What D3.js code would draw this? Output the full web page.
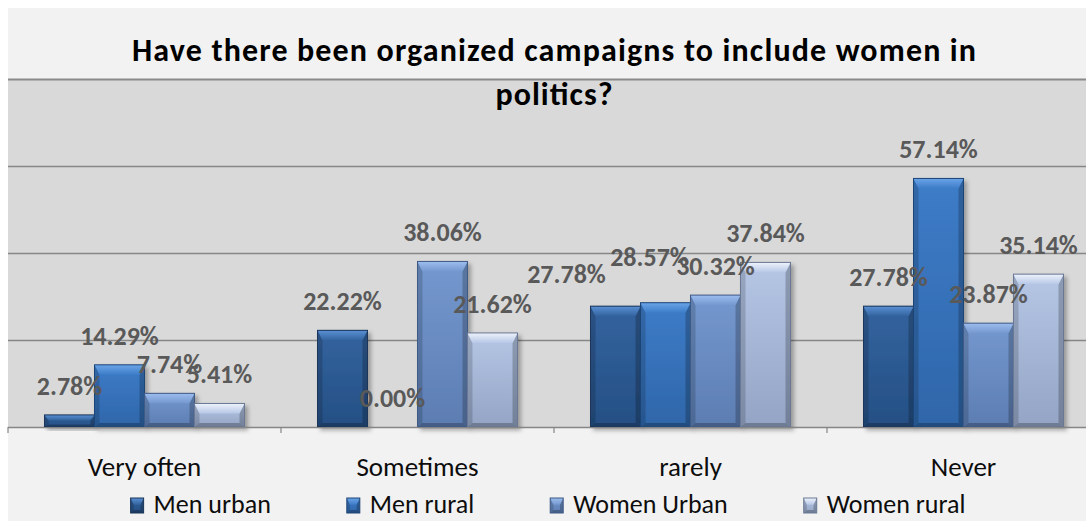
<!DOCTYPE html>
<html>
<head>
<meta charset="utf-8">
<script src="https://cdn.jsdelivr.net/npm/d3@7"></script>
<style>
  html, body { margin: 0; padding: 0; background: #ffffff; }
  svg { display: block; }
  text { font-family: Carlito, Lato, "Open Sans", sans-serif; }
</style>
</head>
<body>
<svg id="chart" width="1086" height="521"></svg>
<script>
// Survey answers, share of respondents per group (%)
const categories = ["Very often", "Sometimes", "rarely", "Never"];
const seriesNames = ["Men urban", "Men rural", "Women Urban", "Women rural"];
const menUrban   = [2.78, 22.22, 27.78, 27.78];
const menRural   = [14.29, 0.00, 28.57, 57.14];
const womenUrban = [7.74, 38.06, 30.32, 23.87];
const womenRural = [5.41, 21.62, 37.84, 35.14];
const yTicks = [0, 20, 40, 60, 80];
const titleLines = ["Have there been organized campaigns to include women in", "politics?"];

const seriesValues = [menUrban, menRural, womenUrban, womenRural];

// Hand-moved data labels (dx, dy in px) so crowded ones stay readable
const labelNudges = {
  "rarely|Men urban": [-49, -3],
  "rarely|Men rural": [-16, -17]
};

// Bevelled bar palettes: body top / body bottom / top bevel highlight / outline
const palettes = [
  { top: "#33639e", bottom: "#254f84", hi: "#5a90d4", edge: "#1a3558" },
  { top: "#3d7cc8", bottom: "#2f66a9", hi: "#6ba5e8", edge: "#1f4577" },
  { top: "#7498cf", bottom: "#5c7db2", hi: "#9dbdee", edge: "#3f5a86" },
  { top: "#b6c7e6", bottom: "#93a4c4", hi: "#eef3fc", edge: "#6a7893" }
];

const svg = d3.select("#chart");
const defs = svg.append("defs");

// chart area
const chartX = 8, chartY = 8, chartW = 1092;
svg.append("rect").attr("x", chartX).attr("y", chartY)
  .attr("width", chartW).attr("height", 521 - chartY).attr("fill", "#f2f2f2");

// plot area
const plot = { left: 8, right: 1100, top: 79, bottom: 427 };
svg.append("rect").attr("x", plot.left).attr("y", plot.top)
  .attr("width", plot.right - plot.left).attr("height", plot.bottom - plot.top)
  .attr("fill", "#d9d9d9");

const x0 = d3.scaleBand().domain(categories).range([plot.left, plot.right]).padding(0);
const groupInset = x0.bandwidth() * 0.1337;
const x1 = d3.scaleBand().domain(seriesNames)
  .range([groupInset, x0.bandwidth() - groupInset]).padding(0);
const y = d3.scaleLinear().domain([0, 80]).range([plot.bottom, plot.top]);

// gridlines
const grid = svg.append("g").attr("transform", `translate(${plot.left},0)`)
  .call(d3.axisLeft(y).tickValues(yTicks).tickSize(-(plot.right - plot.left)).tickFormat(""));
grid.select(".domain").remove();
grid.selectAll(".tick line").attr("stroke", "#878787").attr("stroke-width", 1.4);
grid.selectAll(".tick").filter(d => d === 80).select("line").attr("stroke-width", 2.2).attr("stroke", "#8a8a8a");

// gradients
palettes.forEach((p, i) => {
  const g = defs.append("linearGradient").attr("id", "body" + i)
    .attr("x1", 0).attr("y1", 0).attr("x2", 0).attr("y2", 1);
  g.append("stop").attr("offset", 0).attr("stop-color", p.top);
  g.append("stop").attr("offset", 1).attr("stop-color", p.bottom);
  const h = defs.append("linearGradient").attr("id", "hi" + i)
    .attr("x1", 0).attr("y1", 0).attr("x2", 0).attr("y2", 1);
  h.append("stop").attr("offset", 0).attr("stop-color", p.hi).attr("stop-opacity", 1);
  h.append("stop").attr("offset", 1).attr("stop-color", p.top).attr("stop-opacity", 1);
});
const shadow = defs.append("filter").attr("id", "shadow")
  .attr("x", "-20%").attr("y", "-20%").attr("width", "150%").attr("height", "150%");
shadow.append("feDropShadow").attr("dx", 3).attr("dy", 3).attr("stdDeviation", 2.2)
  .attr("flood-color", "#000").attr("flood-opacity", 0.3);

// one bevelled bar
function bevelBar(sel, w, h, i) {
  const bs = Math.min(5, w / 4, h / 3);
  const bt = Math.min(10, h * 0.45);
  const bb = Math.min(4, h * 0.2);
  const pts = a => a.map(p => p.join(",")).join(" ");
  sel.append("rect").attr("width", w).attr("height", h).attr("fill", `url(#body${i})`);
  sel.append("polygon").attr("points", pts([[0, 0], [bs, bt], [bs, h - bb], [0, h]]))
    .attr("fill", "#000").attr("fill-opacity", 0.16);
  sel.append("polygon").attr("points", pts([[w, 0], [w - bs, bt], [w - bs, h - bb], [w, h]]))
    .attr("fill", "#000").attr("fill-opacity", 0.22);
  sel.append("polygon").attr("points", pts([[0, h], [w, h], [w - bs, h - bb], [bs, h - bb]]))
    .attr("fill", "#000").attr("fill-opacity", 0.25);
  sel.append("polygon").attr("points", pts([[0, 0], [w, 0], [w - bs, bt], [bs, bt]]))
    .attr("fill", `url(#hi${i})`);
  sel.append("rect").attr("width", w).attr("height", h).attr("fill", "none")
    .attr("stroke", palettes[i].edge).attr("stroke-width", 1);
}

// bars
const groups = svg.append("g").selectAll("g.cat").data(categories).join("g")
  .attr("class", "cat").attr("transform", d => `translate(${x0(d)},0)`);

groups.each(function (cat, ci) {
  const g = d3.select(this);
  seriesNames.forEach((s, si) => {
    const v = seriesValues[si][ci];
    const h = y(0) - y(v);
    if (h <= 0) return;
    const bar = g.append("g").attr("filter", "url(#shadow)")
      .attr("transform", `translate(${x1(s)},${y(v)})`);
    bevelBar(bar, x1.bandwidth(), h, si);
  });
});

// category axis
const xAxis = svg.append("g").attr("transform", `translate(0,${plot.bottom})`)
  .call(d3.axisBottom(x0).tickSize(0).tickPadding(0));
xAxis.select(".domain").attr("stroke", "#868686").attr("stroke-width", 1.2);
xAxis.selectAll(".tick text").attr("dy", null).attr("y", 49)
  .attr("font-size", 27).attr("fill", "#0d0d0d")
  .style("font-family", "Carlito, Lato, sans-serif");
// tick marks on band boundaries
const edges = categories.map(c => x0(c)).concat([x0(categories[categories.length - 1]) + x0.bandwidth()]);
xAxis.selectAll("line.edge").data(edges).join("line").attr("class", "edge")
  .attr("x1", d => d).attr("x2", d => d).attr("y1", 0).attr("y2", 6)
  .attr("stroke", "#868686").attr("stroke-width", 1.2);

// value labels
const labelData = [];
categories.forEach((c, ci) => seriesNames.forEach((s, si) => {
  const [dx, dy] = labelNudges[c + "|" + s] || [0, 0];
  labelData.push({ x: x0(c) + x1(s) + x1.bandwidth() / 2 + dx, dy, v: seriesValues[si][ci] });
}));
svg.append("g").selectAll("text").data(labelData).join("text")
  .attr("x", d => d.x).attr("y", d => y(d.v) - 20 + d.dy)
  .attr("text-anchor", "middle").attr("font-size", 26).attr("font-weight", "bold")
  .attr("fill", "#595959")
  .text(d => d.v.toFixed(2) + "%");

// title
const cx = (chartX + chartX + chartW) / 2;
svg.append("text").attr("x", cx).attr("y", 61).attr("text-anchor", "middle")
  .attr("font-size", 32).attr("font-weight", "bold").attr("fill", "#000")
  .attr("textLength", 844).attr("lengthAdjust", "spacing")
  .text(titleLines[0]);
svg.append("text").attr("x", cx).attr("y", 105).attr("text-anchor", "middle")
  .attr("font-size", 32).attr("font-weight", "bold").attr("fill", "#000")
  .attr("textLength", 117).attr("lengthAdjust", "spacing")
  .text(titleLines[1]);

// legend
const legend = svg.append("g");
const legendGap = 76;
let lx = 0;
seriesNames.forEach((s, i) => {
  const it = legend.append("g");
  const mk = it.append("g").attr("transform", `translate(${lx},-15)`);
  bevelBar(mk, 13, 15, i);
  const t = it.append("text").attr("x", lx + 23).attr("y", 0)
    .attr("font-size", 26).attr("fill", "#0d0d0d").text(s);
  lx += 23 + t.node().getComputedTextLength() + legendGap;
});
const legendW = lx - legendGap;
legend.attr("transform", `translate(${548 - legendW / 2},513)`);
</script>
</body>
</html>
